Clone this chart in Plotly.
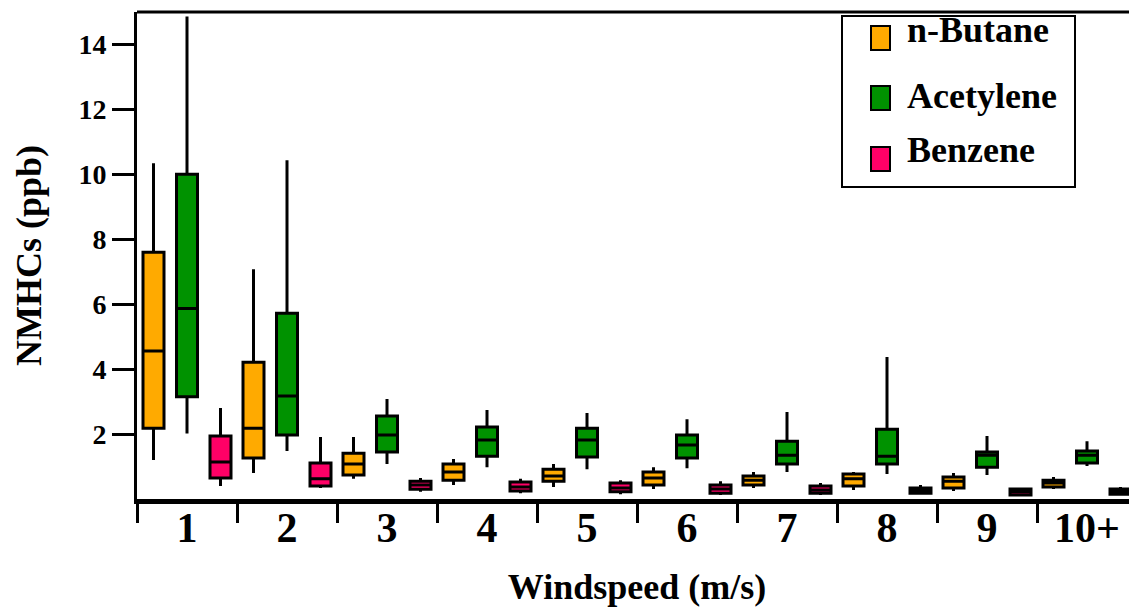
import plotly.graph_objects as go

categories = ["1", "2", "3", "4", "5", "6", "7", "8", "9", "10+"]

butane_hi = [10.34, 7.08, 1.91, 1.23, 1.08, 0.98, 0.83, 0.83, 0.80, 0.68]
butane_q3 = [7.60, 4.21, 1.41, 1.08, 0.92, 0.83, 0.71, 0.77, 0.68, 0.58]
butane_med = [4.56, 2.18, 1.08, 0.83, 0.71, 0.65, 0.58, 0.62, 0.55, 0.49]
butane_q1 = [2.18, 1.26, 0.74, 0.58, 0.55, 0.43, 0.43, 0.40, 0.34, 0.37]
butane_lo = [1.20, 0.80, 0.62, 0.43, 0.37, 0.31, 0.34, 0.28, 0.25, 0.31]

acet_hi = [14.86, 10.43, 3.08, 2.74, 2.65, 2.46, 2.68, 4.37, 1.94, 1.78]
acet_q3 = [10.00, 5.72, 2.56, 2.22, 2.18, 1.97, 1.78, 2.15, 1.45, 1.48]
acet_med = [5.87, 3.17, 1.97, 1.82, 1.82, 1.66, 1.35, 1.32, 1.35, 1.35]
acet_q1 = [3.15, 1.97, 1.45, 1.32, 1.29, 1.26, 1.08, 1.08, 0.98, 1.11]
acet_lo = [2.02, 1.48, 1.08, 0.98, 0.92, 0.95, 0.83, 0.77, 0.74, 1.02]

benz_hi = [2.80, 1.91, 0.65, 0.62, 0.58, 0.55, 0.49, 0.43, 0.34, 0.37]
benz_q3 = [1.94, 1.11, 0.55, 0.52, 0.49, 0.43, 0.40, 0.34, 0.31, 0.31]
benz_med = [1.14, 0.62, 0.43, 0.37, 0.34, 0.31, 0.28, 0.25, 0.22, 0.22]
benz_q1 = [0.65, 0.40, 0.30, 0.25, 0.22, 0.18, 0.18, 0.18, 0.12, 0.15]
benz_lo = [0.40, 0.34, 0.22, 0.18, 0.15, 0.12, 0.12, 0.15, 0.10, 0.12]

series = [
    ("n-Butane", "#FFAA00", -0.335, butane_lo, butane_q1, butane_med, butane_q3, butane_hi),
    ("Acetylene", "#009200", 0.0, acet_lo, acet_q1, acet_med, acet_q3, acet_hi),
    ("Benzene", "#FF0066", 0.335, benz_lo, benz_q1, benz_med, benz_q3, benz_hi),
]

FONT = "Liberation Serif, Times New Roman, serif"
W, H = 1137, 608
# plot area in window pixels: x 137..1137, y 12..499
L, R, T = 137, 0, 12
B = H - 499
PW, PH = W - L - R, H - T - B

fig = go.Figure()
centers = list(range(1, len(categories) + 1))
for name, color, off, lo, q1, med, q3, hi in series:
    fig.add_trace(go.Box(
        name=name,
        x=[c + off for c in centers],
        lowerfence=lo, q1=q1, median=med, q3=q3, upperfence=hi,
        width=0.21, whiskerwidth=0,
        fillcolor=color,
        line=dict(color="black", width=3),
        boxpoints=False,
        showlegend=False,
    ))


def px(x):
    return (x - L) / PW


def py(y):
    return (H - B - y) / PH


shapes = [
    dict(type="line", xref="paper", yref="paper", x0=0, x1=1, y0=1, y1=1,
         line=dict(color="black", width=3)),
    dict(type="rect", xref="paper", yref="paper", x0=px(842), x1=px(1075),
         y0=py(187), y1=py(16), line=dict(color="black", width=2), fillcolor="white",
         layer="above"),
]
annotations = []
legend_rows = [(38, 30), (98, 96), (159, 150)]
for (name, color, *_), (sq_y, tx_y) in zip(series, legend_rows):
    shapes.append(dict(type="rect", xref="paper", yref="paper",
                       x0=px(871), x1=px(890), y0=py(sq_y + 12), y1=py(sq_y - 12),
                       line=dict(color="black", width=2), fillcolor=color, layer="above"))
    annotations.append(dict(xref="paper", yref="paper", x=px(905), y=py(tx_y),
                            xanchor="left", yanchor="middle", showarrow=False,
                            text=name, font=dict(family=FONT, size=36, color="black",
                                                 weight="bold")))

fig.update_layout(
    width=W, height=H,
    margin=dict(l=L, r=R, t=T, b=B, pad=0),
    paper_bgcolor="white", plot_bgcolor="white",
    showlegend=False,
    shapes=shapes,
    annotations=annotations,
    xaxis=dict(
        range=[0.5, 10.5],
        tickmode="array", tickvals=centers, ticktext=categories,
        ticks="", showgrid=False, zeroline=False,
        showline=True, linecolor="black", linewidth=5,
        tickfont=dict(family=FONT, size=42, color="black", weight="bold"),
        ticklabelstandoff=-12,
        minor=dict(tickmode="array", tickvals=[0.5 + i for i in range(10)],
                   ticks="outside", ticklen=19, tickwidth=3, tickcolor="black",
                   showgrid=False),
        title=dict(text="Windspeed (m/s)", standoff=25,
                   font=dict(family=FONT, size=36, color="black", weight="bold")),
    ),
    yaxis=dict(
        range=[0, 15],
        tickmode="array", tickvals=[2, 4, 6, 8, 10, 12, 14],
        ticks="outside", ticklen=22, tickwidth=3, tickcolor="black",
        showgrid=False, zeroline=False,
        showline=True, linecolor="black", linewidth=3,
        tickfont=dict(family=FONT, size=28, color="black", weight="bold"),
        title=dict(text="NMHCs (ppb)", standoff=26,
                   font=dict(family=FONT, size=36, color="black", weight="bold")),
    ),
)

fig.write_html(
    "out.html",
    config={"displayModeBar": False},
    post_script="document.body.style.margin='0px';document.body.style.overflow='hidden';",
)
